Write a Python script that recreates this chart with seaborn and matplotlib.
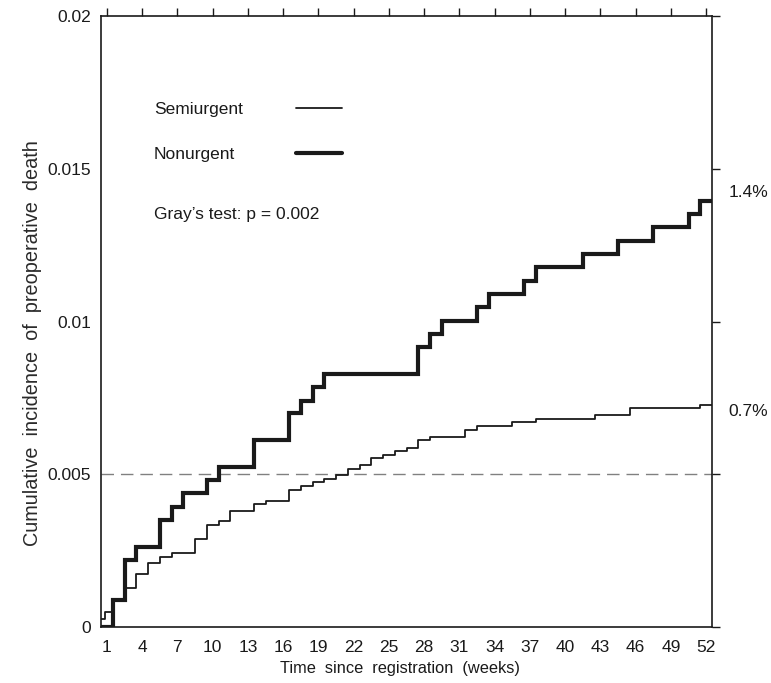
import matplotlib
matplotlib.use("Agg")
import matplotlib.pyplot as plt
import seaborn as sns
import pandas as pd

# ---- data ----
semi_weeks = [0.5, 0.8, 1.5, 2.5, 3.5, 4.5, 5.5, 6.5, 8.5, 9.5, 10.5, 11.5, 13.5, 14.5,
              16.5, 17.5, 18.5, 19.5, 20.5, 21.5, 22.5, 23.5, 24.5, 25.5, 26.5, 27.5,
              28.5, 31.5, 32.5, 35.5, 37.5, 42.5, 45.5, 51.5, 52.5]
semi_cif = [0.00025, 0.00049, 0.00088, 0.00128, 0.00175, 0.00208, 0.00230, 0.00242,
            0.00287, 0.00334, 0.00346, 0.00380, 0.00402, 0.00414, 0.00449, 0.00460,
            0.00473, 0.00484, 0.00496, 0.00517, 0.00531, 0.00553, 0.00564, 0.00575,
            0.00585, 0.00611, 0.00622, 0.00646, 0.00659, 0.00670, 0.00682, 0.00693,
            0.00718, 0.00728, 0.00728]

non_weeks = [0.5, 1.5, 2.5, 3.5, 5.5, 6.5, 7.5, 9.5, 10.5, 13.5, 16.5, 17.5, 18.5, 19.5,
             27.5, 28.5, 29.5, 32.5, 33.5, 36.5, 37.5, 41.5, 44.5, 47.5, 50.5, 51.5, 52.5]
non_cif = [0.0, 0.00088, 0.00219, 0.00263, 0.00350, 0.00394, 0.00438, 0.00481, 0.00523,
           0.00612, 0.00700, 0.00741, 0.00785, 0.00828, 0.00916, 0.00959, 0.01003,
           0.01047, 0.01090, 0.01134, 0.01178, 0.01221, 0.01265, 0.01309, 0.01352,
           0.01396, 0.01396]

x_ticks = list(range(1, 53, 3))
y_ticks = [0, 0.005, 0.01, 0.015, 0.02]
y_tick_labels = ["0", "0.005", "0.01", "0.015", "0.02"]
end_labels = ["1.4%", "0.7%"]
groups = ["Semiurgent", "Nonurgent"]

# ---- styling ----
sns.set_style("white")
plt.rcParams["font.family"] = ["Liberation Sans", "DejaVu Sans"]
ink = "#1a1a1a"

fig = plt.figure(figsize=(7.71, 6.83), dpi=100)
ax = fig.add_axes([101 / 771, 1 - 627 / 683, (712 - 101) / 771, (627 - 16) / 683])

semi_df = pd.DataFrame({"week": semi_weeks, "cif": semi_cif})
non_df = pd.DataFrame({"week": non_weeks, "cif": non_cif})

ax.axhline(0.005, color="#808080", lw=1.0, dashes=(9, 5), zorder=1)

sns.lineplot(data=semi_df, x="week", y="cif", ax=ax, color=ink, lw=1.3,
             drawstyle="steps-post", estimator=None, sort=False, zorder=3)
sns.lineplot(data=non_df, x="week", y="cif", ax=ax, color=ink, lw=3.0,
             drawstyle="steps-post", estimator=None, sort=False, zorder=4,
             solid_joinstyle="miter")

ax.set_xlim(0.5, 52.5)
ax.set_ylim(0, 0.02)
ax.set_xticks(x_ticks)
ax.set_xticklabels([str(t) for t in x_ticks])
ax.set_yticks(y_ticks)
ax.set_yticklabels(y_tick_labels)
ax.tick_params(axis="both", direction="out", length=6, width=1.0, color=ink,
               labelsize=12.5, labelcolor=ink, top=True, right=True,
               labeltop=False, labelright=False, pad=3)
ax.tick_params(axis="y", pad=1)
for s in ax.spines.values():
    s.set_visible(True)
    s.set_color(ink)
    s.set_linewidth(1.2)

ax.set_xlabel("Time  since  registration  (weeks)", fontsize=11.8, color=ink)
ax.set_ylabel("Cumulative  incidence  of  preoperative  death", fontsize=14.3,
              color="#2a2a2a")
ax.xaxis.set_label_coords(0.49, -0.055)
ax.yaxis.set_label_coords(-0.097, 0.465)

# legend drawn as text + lines (as in the reference)
ax.text(5.0, 0.01693, groups[0], fontsize=12.5, color=ink, va="center", ha="left")
ax.text(5.0, 0.01547, groups[1], fontsize=12.5, color=ink, va="center", ha="left")
ax.plot([17.06, 20.98], [0.01700, 0.01700], color=ink, lw=1.3)
ax.plot([17.06, 20.98], [0.01553, 0.01553], color=ink, lw=3.0)
ax.text(5.0, 0.01350, "Gray\u2019s test: p = 0.002", fontsize=12.5, color=ink,
        va="center", ha="left")

ax.text(53.9, 0.01421, end_labels[0], fontsize=12.5, color=ink, va="center",
        ha="left", clip_on=False)
ax.text(53.9, 0.00707, end_labels[1], fontsize=12.5, color=ink, va="center",
        ha="left", clip_on=False)

fig.savefig("out.png", dpi=100)
